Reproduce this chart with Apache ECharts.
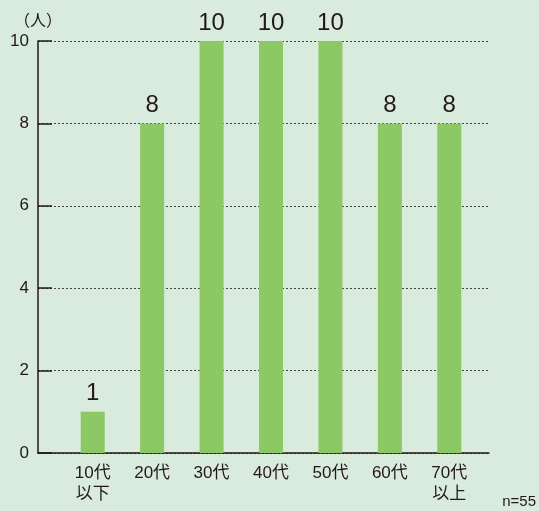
<!DOCTYPE html>
<html>
<head>
<meta charset="utf-8">
<script src="https://cdn.jsdelivr.net/npm/echarts@6/dist/echarts.min.js"></script>
<style>
  html, body { margin: 0; padding: 0; background: #d8ebdc; }
  #chart { width: 539px; height: 511px; }
</style>
</head>
<body>
<div id="chart"></div>
<script>
// 年代別の人数
const categories = ['10代\n以下', '20代', '30代', '40代', '50代', '60代', '70代\n以上'];
const counts = [1, 8, 10, 10, 10, 8, 8];
const yTicks = { min: 0, max: 10, interval: 2 };

const textColor = '#231815';
const font = '"Liberation Sans", "Noto Sans CJK JP", sans-serif';

const chart = echarts.init(document.getElementById('chart'));

chart.setOption({
  backgroundColor: '#d8ebdc',
  animation: false,
  textStyle: { fontFamily: font, color: textColor },
  grid: [
    // 枠（軸線と目盛り）
    { left: 38, right: 50, top: 41, bottom: 58 },
    // 棒の配置
    { left: 63, right: 60, top: 41, bottom: 58 }
  ],
  xAxis: [
    {
      gridIndex: 0,
      type: 'value',
      min: 0,
      max: 1,
      axisLine: { show: true, lineStyle: { color: textColor, width: 1.5 } },
      axisTick: { show: false },
      axisLabel: { show: false },
      splitLine: { show: false }
    },
    {
      gridIndex: 1,
      type: 'category',
      data: categories,
      axisLine: { show: false },
      axisTick: { show: false },
      axisLabel: {
        color: textColor,
        fontSize: 17,
        lineHeight: 21,
        margin: 10,
        fontFamily: font
      }
    }
  ],
  yAxis: [
    {
      gridIndex: 0,
      type: 'value',
      min: yTicks.min,
      max: yTicks.max,
      interval: yTicks.interval,
      name: '（人）',
      nameLocation: 'end',
      nameGap: 11,
      nameTextStyle: { color: textColor, fontSize: 16, fontFamily: font },
      axisLine: { show: true, lineStyle: { color: textColor, width: 1.5 } },
      axisTick: {
        show: true,
        inside: true,
        length: 14,
        lineStyle: { color: textColor, width: 1.5 }
      },
      axisLabel: { color: textColor, fontSize: 17, margin: 9, fontFamily: font },
      splitLine: {
        show: true,
        lineStyle: { color: '#444', type: [2, 2], width: 1 }
      }
    },
    {
      gridIndex: 1,
      type: 'value',
      min: yTicks.min,
      max: yTicks.max,
      show: false
    }
  ],
  series: [
    {
      type: 'bar',
      xAxisIndex: 1,
      yAxisIndex: 1,
      data: counts,
      barWidth: 24,
      itemStyle: { color: '#8cc864' },
      label: {
        show: true,
        position: 'top',
        distance: 6,
        color: textColor,
        fontSize: 24,
        fontFamily: font
      }
    }
  ],
  graphic: [
    {
      type: 'text',
      right: 3,
      bottom: 2,
      style: { text: 'n=55', fill: textColor, fontSize: 15, fontFamily: font }
    }
  ]
});
</script>
</body>
</html>
